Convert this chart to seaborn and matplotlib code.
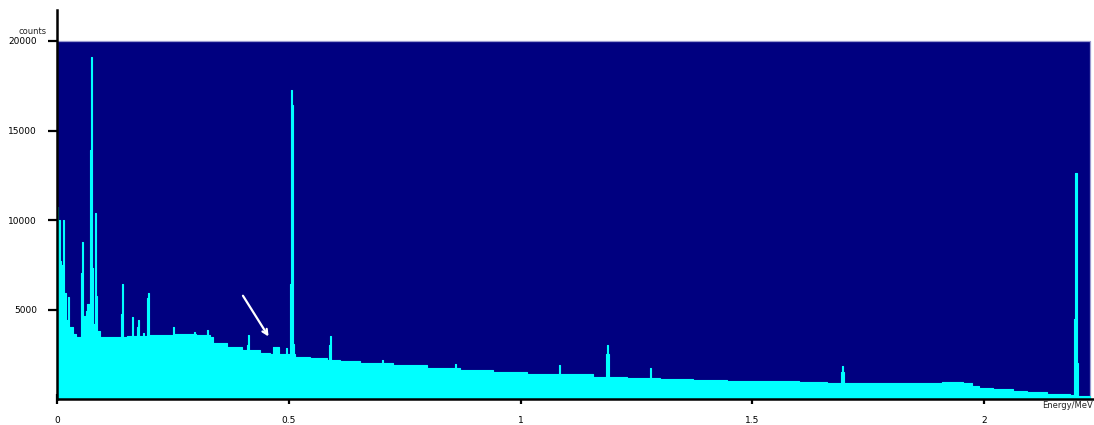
import numpy as np
import pandas as pd
import matplotlib
matplotlib.use("Agg")
import matplotlib.pyplot as plt
from matplotlib.patches import Rectangle
import seaborn as sns

# ---------------- data ----------------
# continuum: counts hold from each energy up to the next one (MeV)
cont_energy = [0.000, 0.003, 0.009, 0.014, 0.019, 0.026, 0.034, 0.040, 0.056, 0.062,
               0.066, 0.077, 0.085, 0.092, 0.150, 0.200, 0.250, 0.300, 0.330, 0.337,
               0.367, 0.400, 0.438, 0.460, 0.466, 0.478, 0.513, 0.546, 0.583, 0.611,
               0.654, 0.725, 0.798, 0.869, 0.941, 1.014, 1.085, 1.156, 1.230, 1.301,
               1.372, 1.446, 1.517, 1.600, 1.661, 1.750, 1.804, 1.880, 1.910, 1.955,
               1.975, 1.990, 2.020, 2.063, 2.093, 2.136, 2.164, 2.186, 2.203]
cont_counts = [10700, 7700, 7500, 5900, 4400, 4000, 3650, 3480, 4650, 4900,
               5300, 4200, 3800, 3450, 3500, 3560, 3620, 3560, 3480, 3150,
               2920, 2720, 2590, 2520, 2900, 2520, 2360, 2300, 2190, 2130,
               2020, 1900, 1750, 1620, 1510, 1420, 1370, 1250, 1200, 1120,
               1060, 1030, 990, 950, 920, 890, 870, 900, 960, 900,
               700, 620, 560, 450, 390, 300, 270, 220, 170]
spectrum_end = 2.229

# narrow peaks (one channel each)
peak_energy = [0.004, 0.013, 0.024, 0.052, 0.054, 0.065, 0.071, 0.073, 0.076, 0.082,
               0.084, 0.138, 0.140, 0.162, 0.173, 0.175, 0.186, 0.194, 0.196, 0.250,
               0.296, 0.324, 0.410, 0.412, 0.494, 0.503, 0.505, 0.507, 0.509, 0.587,
               0.589, 0.701, 0.859, 1.083, 1.184, 1.187, 1.189, 1.279, 1.691, 1.694,
               1.696, 2.194, 2.196, 2.198, 2.200]
peak_counts = [10000, 10000, 5700, 7050, 8750, 5300, 13900, 19100, 7300, 10400,
               5770, 4750, 6400, 4600, 4000, 4400, 3700, 5650, 5900, 4030,
               3750, 3870, 3000, 3590, 2860, 6440, 17250, 16400, 3080, 3000,
               3530, 2180, 1960, 1900, 2520, 3030, 2520, 1740, 1500, 1850,
               1500, 4480, 12600, 12600, 2020]
channel_width = 0.0024

y_ticks = [5000, 10000, 15000, 20000]
x_ticks = [0, 0.5, 1, 1.5, 2]
x_tick_labels = ["0", "0.5", "1", "1.5", "2"]
display_max = 20000

# ---------------- build the step series ----------------
ce = np.array(cont_energy)
cc = np.array(cont_counts, dtype=float)
pe = np.array(peak_energy)
pc = np.array(peak_counts, dtype=float)
edges = np.unique(np.concatenate([ce, pe, pe + channel_width, [spectrum_end]]))
edges = edges[edges <= spectrum_end]
vals = []
for e in edges:
    idx = np.searchsorted(ce, e, side="right") - 1
    v = cc[idx]
    inpk = (pe <= e + 1e-9) & (e < pe + channel_width - 1e-9)
    if inpk.any():
        v = max(v, pc[inpk].max())
    if e >= spectrum_end:
        v = 0.0
    vals.append(v)
df = pd.DataFrame({"energy": edges, "counts": vals})

# ---------------- figure ----------------
sns.set_theme(style="white")
plt.rcParams["font.family"] = ["DejaVu Sans"]
W, H = 1094, 425
fig = plt.figure(figsize=(W / 100, H / 100), dpi=100)
ax = fig.add_axes([57 / W, (H - 399) / H, (W - 57) / W, (399 - 10) / H])

navy = "#000080"
cyan = "#00ffff"
ax.add_patch(Rectangle((0, 0), spectrum_end, display_max, facecolor=navy,
                       edgecolor="#9a9ad0", lw=0.9, zorder=0))
ax.fill_between(df["energy"], df["counts"], step="post", color=cyan, lw=0, zorder=1)
sns.lineplot(data=df, x="energy", y="counts", drawstyle="steps-post",
             color=cyan, lw=0.8, ax=ax, zorder=2)

ax.annotate("", xy=(0.4596, 3360), xytext=(0.398, 5900),
            arrowprops=dict(arrowstyle="->", color="white", lw=1.6,
                            mutation_scale=9), zorder=3)

ax.set_xlim(0, (W - 57) / 463.5)
ax.set_ylim(0, display_max * (399 - 10) / (399 - 41))
ax.set_facecolor("white")
for s in ["top", "right"]:
    ax.spines[s].set_visible(False)
for s in ["left", "bottom"]:
    ax.spines[s].set_color("black")
    ax.spines[s].set_linewidth(1.8)
    ax.spines[s].set_zorder(5)

ax.set_yticks(y_ticks)
ax.set_yticklabels([str(v) for v in y_ticks])
ax.set_xticks(x_ticks)
ax.set_xticklabels(x_tick_labels)
ax.tick_params(axis="y", direction="out", length=6.5, width=1.6, pad=8,
               labelsize=6.5, colors="black", left=True)
ax.tick_params(axis="x", direction="inout", length=7, width=1.6, pad=9,
               labelsize=6.5, colors="black", bottom=True)
ax.set_xlabel("")
ax.set_ylabel("")
ax.grid(False)

fig.text(32.5 / W, 1 - 32 / H, "counts", fontsize=6, ha="center", va="center")
fig.text(1093 / W, 1 - 406 / H, "Energy/MeV", fontsize=6, ha="right", va="center")

fig.savefig("out.png", dpi=100, facecolor="white")
